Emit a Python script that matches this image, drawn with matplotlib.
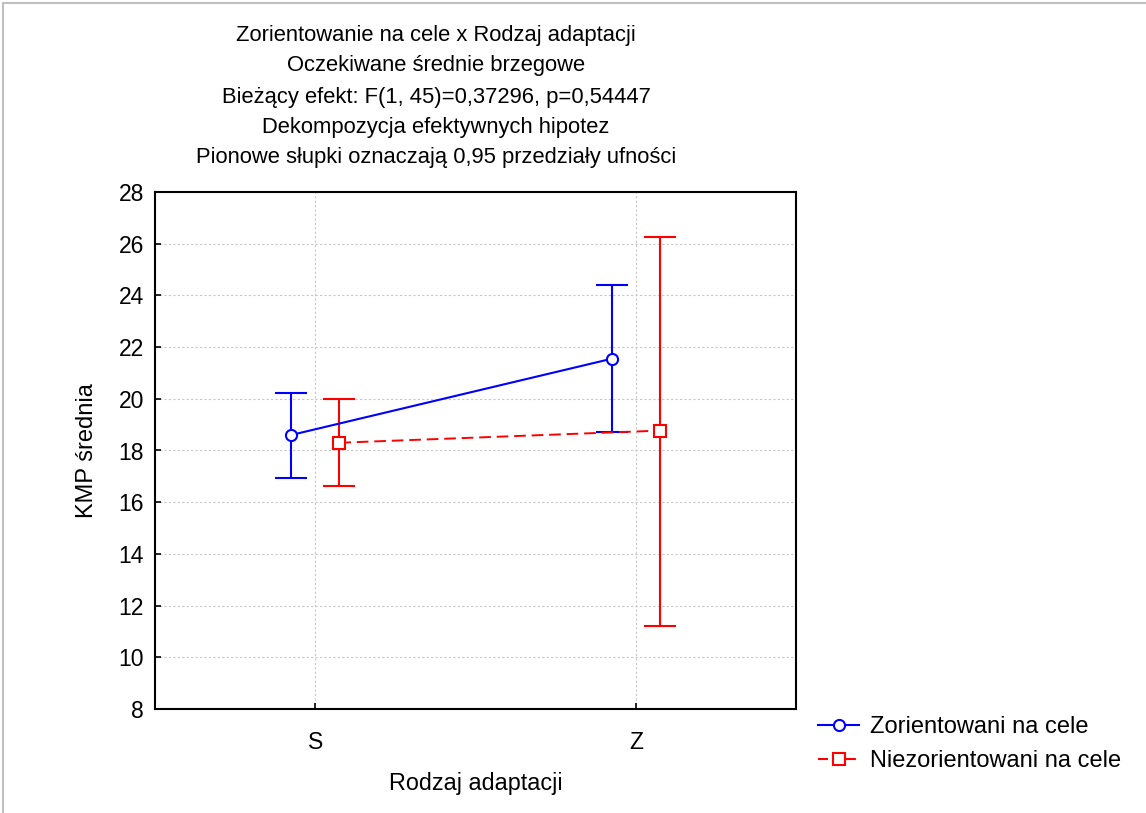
import numpy as np
import matplotlib.pyplot as plt
from matplotlib.patches import Rectangle
from matplotlib.lines import Line2D

plt.rcParams['font.family'] = ['Liberation Sans', 'DejaVu Sans']

categories = ["S", "Z"]
groups = ["Zorientowani na cele", "Niezorientowani na cele"]
means_zor = [18.60, 21.55]
lower_zor = [16.95, 18.72]
upper_zor = [20.21, 24.40]
means_nie = [18.30, 18.77]
lower_nie = [16.63, 11.21]
upper_nie = [19.98, 26.27]

title_lines = [
    "Zorientowanie na cele x Rodzaj adaptacji",
    "Oczekiwane średnie brzegowe",
    "Bieżący efekt: F(1, 45)=0,37296, p=0,54447",
    "Dekompozycja efektywnych hipotez",
    "Pionowe słupki oznaczają 0,95 przedziały ufności",
]

W, H = 1146, 813
fig = plt.figure(figsize=(W / 100, H / 100), dpi=100)
ax = fig.add_axes([155 / W, 1 - 709 / H, (796 - 155) / W, (709 - 192) / H])

x = np.arange(len(categories))
off = 0.075
blue, red = "#0000ff", "#ff0000"

m = np.array(means_zor)
yerr = [m - np.array(lower_zor), np.array(upper_zor) - m]
ax.errorbar(x - off, m, yerr=yerr, color=blue, lw=1.5, capsize=11.5,
            capthick=1.5, marker="o", ms=8, mfc="white", mec=blue,
            mew=1.5, zorder=3)

m2 = np.array(means_nie)
yerr2 = [m2 - np.array(lower_nie), np.array(upper_nie) - m2]
eb = ax.errorbar(x + off, m2, yerr=yerr2, color=red, lw=1.5, capsize=11.5,
                 capthick=1.5, marker="s", ms=8, mfc="white", mec=red,
                 mew=1.5, zorder=3)
eb[0].set_dashes([6, 3])
eb[0].set_linewidth(1.4)

ax.set_xlim(-0.5, 1.5)
ax.set_ylim(8, 28)
ax.set_yticks(np.arange(8, 29, 2))
ax.set_xticks(x)
ax.set_xticklabels(categories)
ax.grid(True, color="#c8c8c8", linestyle=(0, (2, 2)), linewidth=0.8)
ax.set_axisbelow(True)
ax.tick_params(axis="both", direction="in", length=4, width=1.2, labelsize=16.5)
ax.tick_params(axis="x", pad=16)
ax.tick_params(axis="y", pad=8)
for s in ax.spines.values():
    s.set_linewidth(1.5)

ax.set_ylabel("KMP średnia", fontsize=17, labelpad=15)
ax.set_xlabel("Rodzaj adaptacji", fontsize=16.8, labelpad=12.5)

ys = [35, 65, 98, 128, 157]
for t, yy in zip(title_lines, ys):
    fig.text(436 / W, 1 - yy / H, t, ha="center", va="center", fontsize=15.8)

handles = [
    Line2D([], [], color=blue, lw=1.5, marker="o", ms=8, mfc="white",
           mec=blue, mew=1.5),
    Line2D([], [], color=red, lw=1.5, dashes=[4.8, 8.6], marker="s", ms=8,
           mfc="white", mec=red, mew=1.5),
]
fig.legend(handles, groups, loc="upper left",
           bbox_to_anchor=(809 / W, 1 - 707 / H), frameon=False, fontsize=17,
           handlelength=1.7, handletextpad=0.5, labelspacing=0.5,
           borderaxespad=0)

fig.patches.append(Rectangle((3 / W, -0.1), 1.2, 1 - 3 / H + 0.1,
                             transform=fig.transFigure, fill=False,
                             edgecolor="#c0c0c0", lw=1.5))

fig.savefig("out.png", dpi=100)
